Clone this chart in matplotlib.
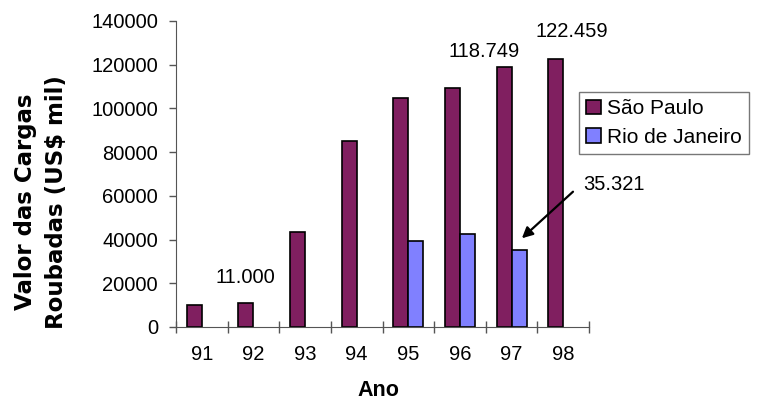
import numpy as np
import matplotlib.pyplot as plt
from matplotlib.ticker import FixedLocator

# data
anos = ['91', '92', '93', '94', '95', '96', '97', '98']
sao_paulo = [10000, 11000, 43500, 85000, 105000, 109500, 118749, 122459]
rio = [0, 0, 0, 0, 39200, 42500, 35321, 0]

plt.rcParams['font.family'] = ['Liberation Sans', 'DejaVu Sans']

fig = plt.figure(figsize=(7.7, 4.0), dpi=100)
ax = fig.add_axes([176 / 770, 73 / 400, 413 / 770, 306 / 400])

x = np.arange(len(anos))
w = 0.29
ax.bar(x - w / 2, sao_paulo, w, color='#801F60', edgecolor='black', linewidth=1.2,
       label='São Paulo')
rio_plot = [v if v > 0 else np.nan for v in rio]
ax.bar(x + w / 2, rio_plot, w, color='#8080FF', edgecolor='black', linewidth=1.2,
       label='Rio de Janeiro')

ax.set_xlim(-0.5, len(anos) - 0.5)
ax.set_ylim(0, 140000)
ax.set_yticks(np.arange(0, 140001, 20000))
ax.set_xticks(x)
ax.set_xticklabels(anos)
ax.xaxis.set_minor_locator(FixedLocator(np.arange(-0.5, len(anos), 1.0)))
ax.tick_params(axis='x', which='major', length=0, pad=13, labelsize=14.5)
ax.tick_params(axis='x', which='minor', length=8, direction='inout', width=1, color='#555555')
ax.tick_params(axis='y', length=5, width=1, color='#555555', labelsize=14.5, pad=8)

for side in ['top', 'right']:
    ax.spines[side].set_visible(False)
ax.spines['left'].set_color('#555555')
ax.spines['bottom'].set_color('#555555')

# value labels
ax.text(0.84, 22500, '11.000', ha='center', va='center', fontsize=14.5)
ax.text(5.47, 126000, '118.749', ha='center', va='center', fontsize=14.5)
ax.text(7.17, 135000, '122.459', ha='center', va='center', fontsize=14.5)
ax.text(7.99, 65400, '35.321', ha='center', va='center', fontsize=14.5)
ax.annotate('', xy=(6.2, 40600), xytext=(7.19, 61900),
            arrowprops=dict(arrowstyle='-|>', color='black', lw=1.6,
                            shrinkA=0, shrinkB=0, mutation_scale=16),
            annotation_clip=False)

fig.text(41 / 770, 1 - 202 / 400, 'Valor das Cargas\nRoubadas (US$ mil)', rotation=90,
         ha='center', va='center', fontsize=16.5, fontweight='bold',
         family='DejaVu Sans', linespacing=1.4)
fig.text(378 / 770, 1 - 391 / 400, 'Ano', ha='center', va='center', fontsize=15.5,
         fontweight='bold')

leg = ax.legend(loc='upper left', bbox_to_anchor=(579 / 770, 1 - 92 / 400),
                bbox_transform=fig.transFigure, fontsize=15, frameon=True,
                fancybox=False, edgecolor='#555555', handlelength=0.7,
                handleheight=0.7, handletextpad=0.3, borderpad=0.35,
                labelspacing=0.45, borderaxespad=0)
leg.get_frame().set_linewidth(1)

fig.savefig('out.png', dpi=100)
